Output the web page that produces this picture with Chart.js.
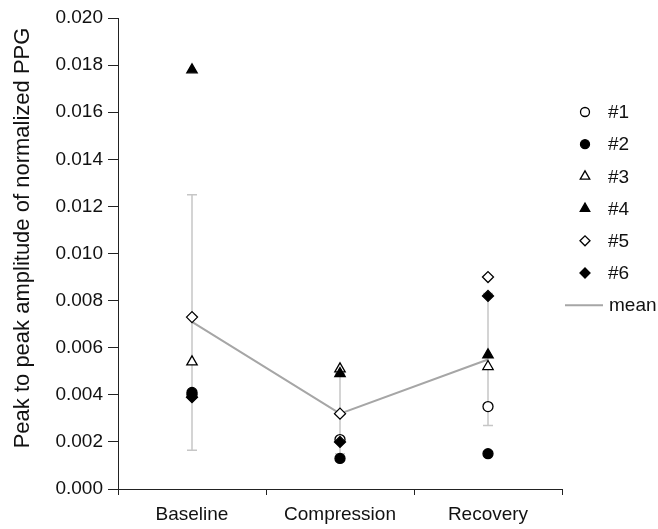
<!DOCTYPE html>
<html>
<head>
<meta charset="utf-8">
<script src="https://cdn.jsdelivr.net/npm/chart.js@4.4.1/dist/chart.umd.min.js"></script>
<style>
  html, body { margin: 0; padding: 0; background: #fff; }
  #wrap { width: 658px; height: 529px; position: relative; }
</style>
</head>
<body>
<div id="wrap"><canvas id="c"></canvas></div>
<script>
// ---- data ----
const categories = ['Baseline', 'Compression', 'Recovery'];
const subject1 = [0.0040, 0.0021, 0.0035];
const subject2 = [0.0041, 0.0013, 0.0015];
const subject3 = [0.0054, 0.0051, 0.0052];
const subject4 = [0.0178, 0.0049, 0.0057];
const subject5 = [0.0073, 0.0032, 0.0090];
const subject6 = [0.0039, 0.0020, 0.0082];
const meanValues = [0.0071, 0.0032, 0.0055];
const errLow  = [0.00165, 0.0015, 0.0027];
const errHigh = [0.0125, 0.0049, 0.0083];
const seriesLabels = ['#1', '#2', '#3', '#4', '#5', '#6'];
const meanLabel = 'mean';
const yTitle = 'Peak to peak amplitude of normalized PPG';
const yMin = 0, yMax = 0.020, yStep = 0.002;

const FONT = "'Liberation Sans', Arial, Helvetica, sans-serif";
const AXIS = '#222';

const seriesData = [subject1, subject2, subject3, subject4, subject5, subject6];
const styles = [
  { pointStyle: 'circle',   filled: false, r: 5 },
  { pointStyle: 'circle',   filled: true,  r: 5 },
  { pointStyle: 'triangle', filled: false, r: 6 },
  { pointStyle: 'triangle', filled: true,  r: 6 },
  { pointStyle: 'rectRot',  filled: false, r: 5.5 },
  { pointStyle: 'rectRot',  filled: true,  r: 5.5 }
];

const datasets = seriesData.map((d, i) => ({
  label: seriesLabels[i],
  data: d,
  showLine: false,
  pointStyle: styles[i].pointStyle,
  pointRadius: styles[i].r,
  pointBackgroundColor: styles[i].filled ? '#000' : '#fff',
  pointBorderColor: '#000',
  pointBorderWidth: 1.3,
  order: 6 - i
}));
datasets.push({
  label: meanLabel,
  data: meanValues,
  borderColor: '#a6a6a6',
  borderWidth: 2,
  pointRadius: 0,
  fill: false,
  order: 10
});

const errorBars = {
  id: 'errorBars',
  beforeDatasetsDraw(chart) {
    const { ctx, scales: { x, y } } = chart;
    ctx.save();
    ctx.strokeStyle = '#c6c6c6';
    ctx.lineWidth = 1.5;
    categories.forEach((c, i) => {
      const px = x.getPixelForValue(i);
      const yl = y.getPixelForValue(errLow[i]);
      const yh = y.getPixelForValue(errHigh[i]);
      ctx.beginPath();
      ctx.moveTo(px, yl); ctx.lineTo(px, yh);
      ctx.moveTo(px - 5, yl); ctx.lineTo(px + 5, yl);
      ctx.moveTo(px - 5, yh); ctx.lineTo(px + 5, yh);
      ctx.stroke();
    });
    ctx.restore();
  }
};

const decorations = {
  id: 'decorations',
  afterDraw(chart) {
    const ctx = chart.ctx;
    ctx.save();
    // y-axis title
    ctx.fillStyle = '#111';
    ctx.font = '22px ' + FONT;
    ctx.textAlign = 'center';
    ctx.textBaseline = 'middle';
    ctx.translate(23, 238);
    ctx.rotate(-Math.PI / 2);
    ctx.fillText(yTitle, 0, 0);
    ctx.restore();

    // legend
    ctx.save();
    const mx = 585, tx = 608, y0 = 112, dy = 32.2;
    ctx.font = '19px ' + FONT;
    ctx.textAlign = 'left';
    ctx.textBaseline = 'middle';
    chart.data.datasets.forEach((ds, i) => {
      const yy = y0 + dy * i;
      if (ds.pointStyle) {
        ctx.fillStyle = ds.pointBackgroundColor;
        ctx.strokeStyle = ds.pointBorderColor;
        ctx.lineWidth = 1.3;
        Chart.helpers.drawPoint(ctx, { pointStyle: ds.pointStyle, radius: ds.pointRadius - 0.5, rotation: 0, borderWidth: 1.3 }, mx, yy);
      } else {
        ctx.strokeStyle = ds.borderColor;
        ctx.lineWidth = ds.borderWidth;
        ctx.beginPath();
        ctx.moveTo(565, yy); ctx.lineTo(603, yy);
        ctx.stroke();
      }
      ctx.fillStyle = '#111';
      ctx.fillText(ds.label, ds.pointStyle ? tx : 609, yy + 1);
    });
    ctx.restore();
  }
};

Chart.defaults.font.family = FONT;
Chart.defaults.font.size = 19;
Chart.defaults.color = '#111';

new Chart(document.getElementById('c'), {
  type: 'line',
  data: { labels: categories, datasets },
  options: {
    responsive: true,
    maintainAspectRatio: false,
    animation: false,
    layout: { padding: { top: 18, right: 96, left: 0, bottom: 0 } },
    plugins: { legend: { display: false }, tooltip: { enabled: false } },
    scales: {
      x: {
        type: 'category',
        offset: true,
        grid: { display: true, drawOnChartArea: false, offset: true, tickLength: 6, color: AXIS, lineWidth: 1 },
        border: { color: AXIS, width: 1 },
        ticks: { padding: 8, maxRotation: 0, autoSkip: false, font: { size: 19 } },
        afterFit(s) { s.height = 40; }
      },
      y: {
        min: yMin, max: yMax,
        grid: { drawOnChartArea: false, tickLength: 10, color: AXIS, lineWidth: 1 },
        border: { color: AXIS, width: 1 },
        ticks: { stepSize: yStep, padding: 5, font: { size: 19 }, callback: v => Number(v).toFixed(3) },
        afterFit(s) { s.width = 118; }
      }
    }
  },
  plugins: [errorBars, decorations]
});
</script>
</body>
</html>
